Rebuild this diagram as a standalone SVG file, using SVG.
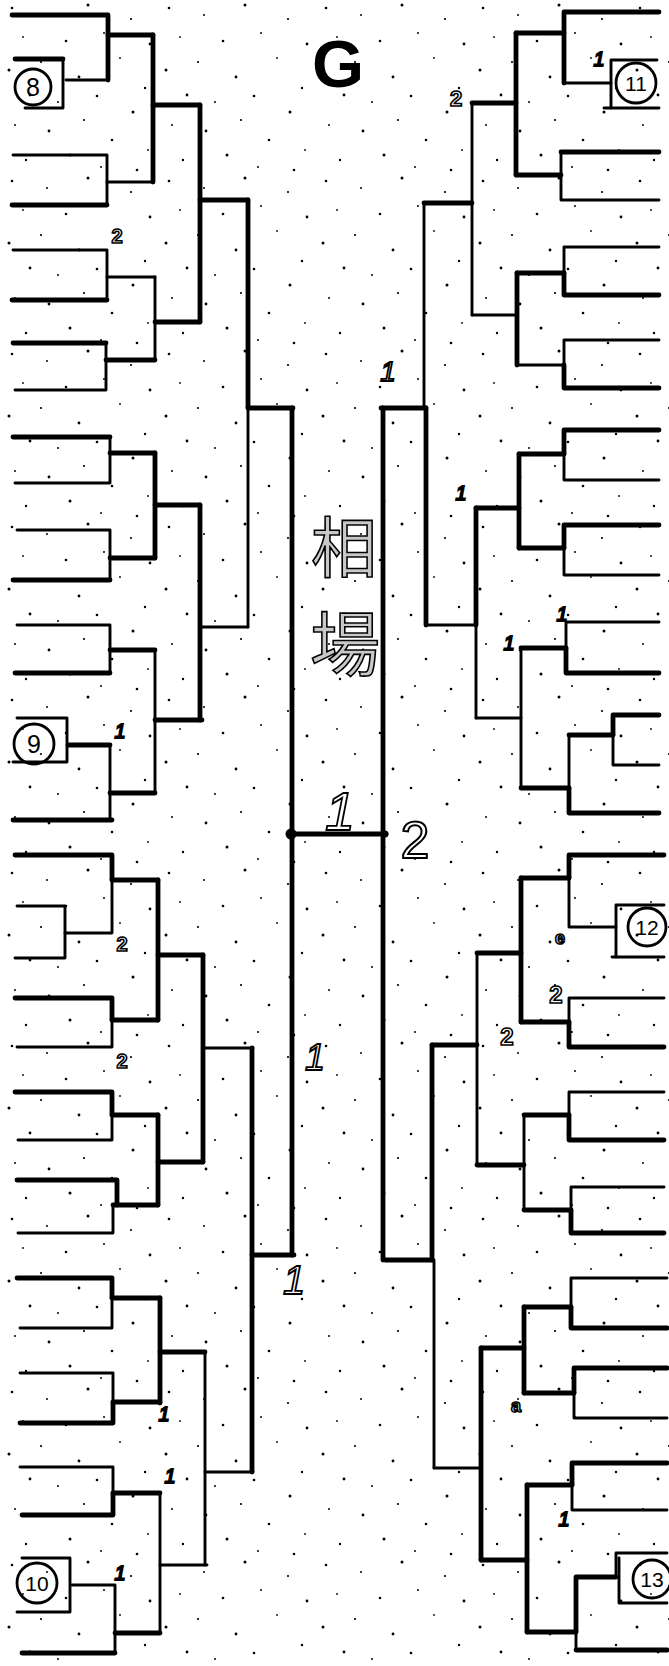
<svg xmlns="http://www.w3.org/2000/svg" width="669" height="1666" viewBox="0 0 669 1666">
<defs>
<style>
.t{fill:none;stroke:#000;stroke-width:2.9;stroke-linecap:round;stroke-linejoin:round}
.k{fill:none;stroke:#000;stroke-width:4.8;stroke-linecap:round;stroke-linejoin:round}
.c{fill:none;stroke:#000;stroke-width:2.8}
.num{font-family:"Liberation Sans",Arial,sans-serif;font-size:25px;text-anchor:middle;fill:#000}
.lb{font-family:"Liberation Sans",Arial,sans-serif;font-size:20px;font-style:italic;text-anchor:middle;fill:#fff;stroke:#000;stroke-width:1.8}
.lb2{font-family:"Liberation Sans",Arial,sans-serif;font-size:20px;font-weight:bold;text-anchor:middle;fill:#fff;stroke:#000;stroke-width:1.6}
.cjk{font-family:"Noto Sans CJK JP","Noto Sans CJK SC",sans-serif;font-size:66px;text-anchor:middle;fill:#c8c8c8;stroke:#000;stroke-width:1.6}
</style>
<pattern id="dots" width="157" height="173" patternUnits="userSpaceOnUse">
<circle cx="12" cy="8" r="1.3"/><circle cx="47" cy="15" r="1"/><circle cx="88" cy="5" r="1.5"/><circle cx="131" cy="19" r="1.1"/><circle cx="150" cy="44" r="1.4"/><circle cx="23" cy="37" r="0.9"/><circle cx="66" cy="41" r="1.3"/><circle cx="104" cy="33" r="1"/><circle cx="9" cy="70" r="1.5"/><circle cx="41" cy="62" r="1.1"/><circle cx="79" cy="77" r="1.4"/><circle cx="120" cy="58" r="0.9"/><circle cx="145" cy="88" r="1.2"/><circle cx="30" cy="95" r="1.4"/><circle cx="58" cy="102" r="1"/><circle cx="97" cy="96" r="1.3"/><circle cx="133" cy="112" r="1.5"/><circle cx="15" cy="125" r="1"/><circle cx="49" cy="131" r="1.4"/><circle cx="84" cy="120" r="1.1"/><circle cx="112" cy="140" r="1.3"/><circle cx="148" cy="150" r="0.9"/><circle cx="26" cy="160" r="1.2"/><circle cx="70" cy="155" r="1.5"/><circle cx="101" cy="167" r="1"/><circle cx="137" cy="170" r="1.3"/>
</pattern>
</defs>
<rect width="669" height="1666" fill="#fff"/>
<rect width="669" height="1666" fill="url(#dots)"/>

<g id="connectors">
<!-- left top 1-8 -->
<path class="k" d="M12 15 H108 V80"/><path class="t" d="M108 80 H66"/>
<path class="k" d="M108 35 H153"/>
<path class="t" d="M13 155 H107 V205"/><path class="k" d="M12 205 H107"/>
<path class="t" d="M107 182 H153"/>
<path class="k" d="M153 35 V182"/>
<path class="k" d="M153 105 H200"/>
<path class="t" d="M13 250 H107 V300"/><path class="k" d="M12 300 H107"/>
<path class="t" d="M107 277 H155"/>
<path class="k" d="M13 343 H106"/><path class="t" d="M106 343 V390 H15"/>
<path class="k" d="M106 360 H155"/>
<path class="t" d="M155 277 V360"/>
<path class="k" d="M155 322 H200"/>
<path class="k" d="M200 105 V322"/>
<path class="k" d="M200 200 H248"/>
<!-- left 9-16 -->
<path class="k" d="M13 437 H110"/><path class="t" d="M110 437 V483 H15"/>
<path class="k" d="M110 453 H155"/>
<path class="t" d="M17 530 H110 V580"/><path class="k" d="M13 580 H110"/>
<path class="k" d="M110 558 H155"/>
<path class="k" d="M155 453 V558"/>
<path class="k" d="M155 505 H200"/>
<path class="t" d="M17 625 H110 V673"/><path class="k" d="M15 673 H110"/>
<path class="k" d="M110 650 H155"/>
<path class="k" d="M68 745 H110"/><path class="t" d="M110 745 V820"/><path class="k" d="M13 820 H112"/>
<path class="k" d="M110 793 H155"/>
<path class="t" d="M155 650 V793"/>
<path class="k" d="M155 720 H202"/>
<path class="k" d="M200 505 V720"/>
<path class="t" d="M202 627 H248"/>
<path class="k" d="M248 200 V408"/><path class="t" d="M248 408 V627"/>
<path class="k" d="M248 408 H293"/>
<path class="k" d="M292 408 V1255"/>
<!-- left 17-24 -->
<path class="k" d="M15 855 H112 V880"/><path class="t" d="M112 880 V933 H65"/>
<path class="t" d="M17 906 H65 V958 H15"/>
<path class="k" d="M112 880 H158"/>
<path class="k" d="M15 998 H112 V1020"/><path class="t" d="M112 1020 V1047 H17"/>
<path class="k" d="M112 1020 H158"/>
<path class="k" d="M158 880 V1020"/>
<path class="k" d="M158 955 H203"/>
<path class="k" d="M15 1092 H112 V1115"/><path class="t" d="M112 1115 V1140 H18"/>
<path class="k" d="M112 1115 H158"/>
<path class="k" d="M17 1180 H117 V1205"/><path class="t" d="M113 1205 V1233 H18"/>
<path class="k" d="M113 1205 H158"/>
<path class="k" d="M158 1115 V1205"/>
<path class="k" d="M158 1162 H203"/>
<path class="k" d="M203 955 V1162"/>
<path class="t" d="M203 1048 H253"/>
<path class="k" d="M252 1048 V1472"/>
<path class="k" d="M252 1255 H294"/>
<!-- left 25-32 -->
<path class="k" d="M17 1278 H112 V1298"/><path class="t" d="M112 1298 V1328 H20"/>
<path class="k" d="M112 1298 H160"/>
<path class="t" d="M20 1373 H113 V1402"/><path class="k" d="M113 1402 V1423 H20"/>
<path class="k" d="M113 1402 H160"/>
<path class="k" d="M160 1298 V1403"/>
<path class="k" d="M160 1352 H205"/>
<path class="t" d="M20 1467 H113 V1493"/><path class="k" d="M113 1493 V1515 H22"/>
<path class="k" d="M113 1493 H160"/>
<path class="t" d="M72 1585 H115 V1653"/><path class="k" d="M115 1653 H22"/>
<path class="k" d="M115 1633 H160"/>
<path class="t" d="M160 1493 V1633"/>
<path class="t" d="M160 1565 H207"/>
<path class="t" d="M205 1352 V1565"/>
<path class="t" d="M205 1472 H253"/>
<!-- right 1-8 -->
<path class="k" d="M659 12 H564 V83"/><path class="t" d="M564 83 H611"/>
<path class="k" d="M564 33 H516"/>
<path class="k" d="M659 152 H561"/><path class="t" d="M561 152 V200 H659"/>
<path class="k" d="M561 175 H516"/>
<path class="k" d="M516 33 V175"/>
<path class="k" d="M516 103 H472"/>
<path class="t" d="M659 247 H564 V273"/><path class="k" d="M564 273 V295 H659"/>
<path class="k" d="M564 273 H517"/>
<path class="t" d="M659 340 H564 V365"/><path class="k" d="M564 365 V388 H659"/>
<path class="t" d="M564 365 H517"/>
<path class="k" d="M517 273 V365"/>
<path class="t" d="M517 315 H472"/>
<path class="t" d="M472 103 V315"/>
<path class="k" d="M472 203 H424"/>
<path class="t" d="M424 203 V408"/><path class="k" d="M426 408 V625"/>
<path class="k" d="M426 408 H381"/>
<path class="k" d="M383 408 V1260"/>
<!-- right 9-16 -->
<path class="k" d="M659 430 H564 V454"/><path class="t" d="M564 454 V480 H659"/>
<path class="k" d="M564 454 H519"/>
<path class="k" d="M659 525 H564 V548"/><path class="t" d="M564 548 V575 H659"/>
<path class="k" d="M564 548 H519"/>
<path class="k" d="M519 454 V548"/>
<path class="k" d="M519 508 H476"/>
<path class="t" d="M659 622 H566 V648"/><path class="k" d="M566 648 V673 H659"/>
<path class="k" d="M566 648 H521"/>
<path class="k" d="M659 715 H613 V735"/><path class="t" d="M613 735 V765 H659"/>
<path class="k" d="M613 735 H569"/><path class="t" d="M569 735 V788"/><path class="k" d="M569 788 V813 H659"/>
<path class="k" d="M569 788 H521"/>
<path class="t" d="M521 648 V788"/>
<path class="t" d="M521 718 H476"/>
<path class="k" d="M476 508 V625"/><path class="t" d="M476 625 V718"/>
<path class="t" d="M476 625 H426"/>
<!-- right 17-24 -->
<path class="k" d="M664 855 H569 V878"/><path class="t" d="M569 878 V927 H616"/>
<path class="k" d="M569 878 H521"/>
<path class="t" d="M664 998 H569 V1022"/><path class="k" d="M569 1022 V1047 H664"/>
<path class="k" d="M569 1022 H521"/>
<path class="k" d="M521 878 V1022"/>
<path class="k" d="M521 953 H477"/>
<path class="t" d="M664 1092 H569 V1115"/><path class="k" d="M569 1115 V1140 H664"/>
<path class="k" d="M569 1115 H524"/>
<path class="t" d="M664 1187 H571 V1210"/><path class="k" d="M571 1210 V1233 H664"/>
<path class="k" d="M571 1210 H524"/>
<path class="t" d="M524 1115 V1210"/>
<path class="k" d="M524 1165 H477"/>
<path class="t" d="M477 953 V1165"/>
<path class="k" d="M477 1045 H432"/>
<path class="k" d="M432 1045 V1260"/><path class="t" d="M434 1260 V1468"/>
<path class="k" d="M432 1260 H385"/>
<!-- right 25-32 -->
<path class="t" d="M667 1278 H571 V1307"/><path class="k" d="M571 1307 V1328 H667"/>
<path class="k" d="M571 1307 H524"/>
<path class="k" d="M667 1368 H574 V1393"/><path class="t" d="M574 1393 V1418 H667"/>
<path class="k" d="M574 1393 H524"/>
<path class="k" d="M524 1307 V1393"/>
<path class="k" d="M524 1348 H481"/>
<path class="k" d="M667 1463 H572 V1485"/><path class="t" d="M572 1485 V1510 H667"/>
<path class="k" d="M572 1485 H527"/>
<path class="k" d="M616 1577 H576 V1632"/><path class="t" d="M576 1632 V1650"/><path class="k" d="M576 1650 H667"/>
<path class="k" d="M576 1632 H527"/>
<path class="k" d="M527 1485 V1632"/>
<path class="k" d="M527 1560 H481"/>
<path class="k" d="M481 1348 V1560"/>
<path class="t" d="M481 1468 H434"/>
<!-- final -->
<path class="k" d="M291 834 H386"/>
<circle cx="291" cy="834" r="5.5"/>
<circle cx="385" cy="834" r="3.5"/>
</g>

<g id="seed-8">
<path class="k" d="M15 59 H63"/><path class="t" d="M63 59 V108 H25"/>
<circle class="c" cx="33" cy="87" r="18"/>
<text class="num" x="33" y="96">8</text>
</g>
<g id="seed-9">
<path class="t" d="M17 718 H67 V762 H13"/>
<circle class="c" cx="34" cy="744" r="20"/>
<text class="num" x="34" y="753">9</text>
</g>
<g id="seed-10">
<path class="t" d="M22 1558 H70 V1612 H17"/>
<circle class="c" cx="37" cy="1583" r="20"/>
<text class="num" x="37" y="1591" style="font-size:21px">10</text>
</g>
<g id="seed-11">
<path class="t" d="M657 60 H611 V108 H604"/><path class="t" d="M611 108 H659"/>
<circle class="c" cx="636" cy="83" r="20"/>
<text class="num" x="636" y="91" style="font-size:21px">11</text>
</g>
<g id="seed-12">
<path class="t" d="M664 905 H616 V957 H612"/><path class="t" d="M616 957 H664"/>
<circle class="c" cx="647" cy="927" r="19"/>
<text class="num" x="647" y="935" style="font-size:21px">12</text>
</g>
<g id="seed-13">
<path class="t" d="M667 1553 H616 V1575"/><path class="t" d="M619 1558 V1603 H667"/>
<circle class="c" cx="652" cy="1579" r="19"/>
<text class="num" x="652" y="1587" style="font-size:21px">13</text>
</g>

<g id="title">
<text x="338" y="87" style="font-family:'Liberation Sans',Arial,sans-serif;font-size:67px;font-weight:bold;text-anchor:middle">G</text>
</g>
<g id="venue">
<text class="cjk" x="344" y="572">相</text>
<text class="cjk" x="345" y="671" style="font-size:70px">場</text>
</g>

<g id="scores">
<text class="lb2" x="117" y="243">2</text>
<text class="lb" x="120" y="738">1</text>
<text class="lb2" x="122" y="951">2</text>
<text class="lb2" x="122" y="1068">2</text>
<text class="lb" x="315" y="1070" style="font-size:36px">1</text>
<text class="lb" x="294" y="1294" style="font-size:40px">1</text>
<text class="lb" x="164" y="1421">1</text>
<text class="lb" x="170" y="1483">1</text>
<text class="lb" x="120" y="1580">1</text>
<text class="lb" x="340" y="830" style="font-size:54px">1</text>
<text x="415" y="858" style="font-family:'Liberation Sans',Arial,sans-serif;font-size:52px;text-anchor:middle;fill:#fff;stroke:#000;stroke-width:2">2</text>
<text class="lb" x="599" y="66">1</text>
<text class="lb2" x="456" y="106" style="font-size:22px">2</text>
<text class="lb" x="388" y="381" style="font-size:28px">1</text>
<text class="lb" x="461" y="500">1</text>
<text class="lb" x="562" y="621">1</text>
<text class="lb" x="509" y="650">1</text>
<text class="lb2" x="560" y="944" style="font-size:18px">e</text>
<text class="lb2" x="556" y="1003" style="font-size:24px">2</text>
<text class="lb2" x="507" y="1045" style="font-size:24px">2</text>
<text class="lb2" x="516" y="1412" style="font-size:18px">a</text>
<text class="lb" x="564" y="1526">1</text>
</g>
</svg>
